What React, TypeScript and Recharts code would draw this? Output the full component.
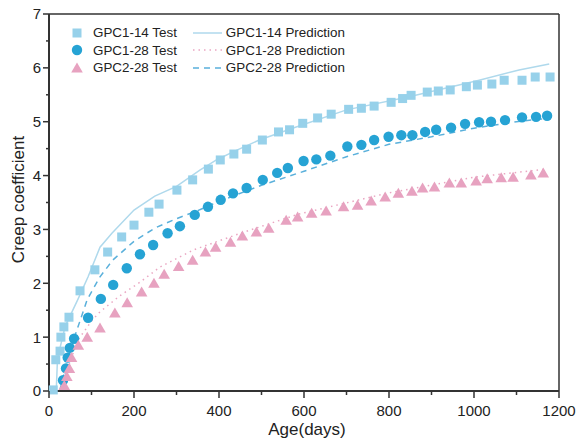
import React from 'react';
import { ComposedChart, Line, Scatter, XAxis, YAxis, ReferenceLine } from 'recharts';

const test14X = [10, 16, 26, 28, 35, 47, 73, 108, 138, 171, 200, 235, 259, 301, 338, 375, 403, 435, 465, 502, 540, 566, 597, 632, 664, 705, 735, 765, 805, 832, 852, 890, 916, 944, 982, 1008, 1042, 1071, 1113, 1144, 1179];
const test14Y = [0.02, 0.58, 0.74, 1.0, 1.19, 1.37, 1.86, 2.25, 2.58, 2.86, 3.08, 3.32, 3.47, 3.73, 3.92, 4.12, 4.29, 4.4, 4.49, 4.66, 4.81, 4.85, 4.97, 5.07, 5.14, 5.23, 5.25, 5.29, 5.36, 5.43, 5.49, 5.55, 5.57, 5.59, 5.65, 5.68, 5.7, 5.77, 5.77, 5.83, 5.83];

const test28X = [33, 40, 44, 49, 59, 92, 122, 151, 183, 214, 245, 279, 308, 343, 374, 404, 433, 465, 503, 537, 562, 599, 629, 662, 702, 735, 765, 799, 829, 855, 885, 911, 946, 979, 1012, 1040, 1073, 1113, 1146, 1172];
const test28Y = [0.2, 0.42, 0.62, 0.8, 0.97, 1.36, 1.71, 1.97, 2.28, 2.54, 2.71, 2.93, 3.06, 3.27, 3.42, 3.55, 3.67, 3.77, 3.92, 4.05, 4.14, 4.27, 4.3, 4.37, 4.54, 4.57, 4.66, 4.72, 4.75, 4.75, 4.81, 4.85, 4.89, 4.96, 4.99, 5.0, 5.03, 5.08, 5.09, 5.11];

const test2X = [36, 42, 48, 53, 69, 90, 120, 155, 184, 218, 247, 271, 305, 338, 368, 392, 427, 455, 488, 517, 558, 585, 618, 652, 693, 726, 758, 791, 822, 854, 879, 907, 942, 970, 1005, 1031, 1064, 1092, 1134, 1163];
const test2Y = [0.1, 0.27, 0.42, 0.62, 0.85, 1.0, 1.17, 1.45, 1.64, 1.84, 2.0, 2.17, 2.31, 2.43, 2.58, 2.67, 2.76, 2.88, 2.95, 3.02, 3.17, 3.23, 3.3, 3.34, 3.42, 3.45, 3.53, 3.6, 3.67, 3.71, 3.77, 3.79, 3.86, 3.86, 3.9, 3.94, 3.96, 3.97, 4.01, 4.05];

// model predictions
const pred14X = [17, 20, 38, 68, 92, 120, 148, 200, 249, 300, 355, 394, 433, 495, 573, 700, 850, 1012, 1106, 1177];
const pred14Y = [0, 0.6, 1.2, 1.7, 2.12, 2.67, 2.93, 3.36, 3.62, 3.8, 4.1, 4.29, 4.44, 4.66, 4.88, 5.22, 5.47, 5.77, 5.96, 6.07];

const pred28X = [28, 50, 68, 85, 100, 120, 167, 214, 261, 340, 440, 585, 800, 1000, 1170];
const pred28Y = [0, 0.55, 0.95, 1.13, 1.3, 1.47, 1.77, 2.02, 2.3, 2.62, 2.9, 3.28, 3.68, 3.97, 4.12];

const pred2X = [25, 45, 60, 75, 90, 120, 150, 200, 250, 300, 350, 400, 500, 600, 700, 800, 900, 1000, 1100, 1170];
const pred2Y = [0, 0.6, 1.0, 1.35, 1.7, 2.12, 2.43, 2.78, 3.03, 3.2, 3.35, 3.52, 3.82, 4.08, 4.35, 4.58, 4.72, 4.88, 5.0, 5.06];

const xTicks = [0, 100, 200, 300, 400, 500, 600, 700, 800, 900, 1000, 1100, 1200];
const yTicks = [0, 0.5, 1, 1.5, 2, 2.5, 3, 3.5, 4, 4.5, 5, 5.5, 6, 6.5, 7];

const zip = (xs: number[], ys: number[]) => xs.map((x, i) => ({ x, y: ys[i] }));

const C_SQ = '#97D1EA';
const C_CIR = '#26A3D4';
const C_TRI = '#E7A2C0';
const C_SOLID = '#AFD9EC';
const C_DASH = '#5AB0DB';
const C_DOT = '#EAA6C2';
const AXIS = '#333';
const FONT = '"Liberation Sans", Arial, sans-serif';

const Square = ({ cx, cy }: any) => <rect x={cx - 4.5} y={cy - 4.5} width={9} height={9} fill={C_SQ} />;
const Circle = ({ cx, cy }: any) => <circle cx={cx} cy={cy} r={5.2} fill={C_CIR} />;
const Triangle = ({ cx, cy }: any) => (
  <polygon points={`${cx},${cy - 5.5} ${cx + 5.8},${cy + 4.5} ${cx - 5.8},${cy + 4.5}`} fill={C_TRI} />
);

const XTick = ({ x, y, payload }: any) => {
  const major = payload.value % 200 === 0;
  const axisY = y - 14;
  return (
    <g>
      <line x1={x} x2={x} y1={axisY} y2={axisY + (major ? 7 : 4)} stroke={AXIS} strokeWidth={1.5} />
      {major && (
        <text x={x} y={y} dy="0.71em" textAnchor="middle" fontSize={15} fill="#222" fontFamily={FONT}>
          {payload.value}
        </text>
      )}
    </g>
  );
};

const YTick = ({ x, y, payload }: any) => {
  const major = payload.value % 1 === 0;
  const axisX = x + 8;
  return (
    <g>
      <line x1={axisX} x2={axisX - (major ? 6 : 3)} y1={y} y2={y} stroke={AXIS} strokeWidth={1.5} />
      {major && (
        <text x={x} y={y} dy="0.36em" textAnchor="end" fontSize={15} fill="#222" fontFamily={FONT}>
          {payload.value}
        </text>
      )}
    </g>
  );
};

const legendLeft = [
  { name: 'GPC1-14 Test', marker: 'sq' },
  { name: 'GPC1-28 Test', marker: 'cir' },
  { name: 'GPC2-28 Test', marker: 'tri' },
];
const legendRight = [
  { name: 'GPC1-14 Prediction', color: C_SOLID, dash: undefined },
  { name: 'GPC1-28 Prediction', color: C_DOT, dash: '1.5 4' },
  { name: 'GPC2-28 Prediction', color: C_DASH, dash: '6 5' },
];

const Legend = () => (
  <div style={{ position: 'absolute', left: 68, top: 24, fontFamily: FONT, fontSize: 13.4, color: '#222', display: 'flex' }}>
    <div>
      {legendLeft.map((e) => (
        <div key={e.name} style={{ display: 'flex', alignItems: 'center', height: 17.5 }}>
          <svg width={25} height={14}>
            {e.marker === 'sq' && <Square cx={9} cy={7} />}
            {e.marker === 'cir' && <Circle cx={9} cy={7} />}
            {e.marker === 'tri' && <Triangle cx={9} cy={7} />}
          </svg>
          <span>{e.name}</span>
        </div>
      ))}
    </div>
    <div style={{ marginLeft: 16 }}>
      {legendRight.map((e) => (
        <div key={e.name} style={{ display: 'flex', alignItems: 'center', height: 17.5 }}>
          <svg width={33} height={14}>
            <line x1={0} x2={29} y1={7} y2={7} stroke={e.color} strokeWidth={1.5} strokeDasharray={e.dash} />
          </svg>
          <span>{e.name}</span>
        </div>
      ))}
    </div>
  </div>
);

export default function App() {
  return (
    <div style={{ position: 'absolute', top: 0, left: 0, width: 581, height: 441 }}>
      <ComposedChart width={581} height={441} margin={{ top: 14, right: 22, bottom: 0, left: 0 }}>
        <XAxis
          dataKey="x"
          type="number"
          domain={[0, 1200]}
          ticks={xTicks}
          interval={0}
          tick={<XTick />}
          tickLine={false}
          tickSize={7}
          tickMargin={7}
          height={50}
          axisLine={{ stroke: AXIS, strokeWidth: 2 }}
          label={{
            content: ({ viewBox }: any) => (
              <text x={viewBox.x + viewBox.width / 2 + 3} y={viewBox.y + 44} textAnchor="middle" fontSize={17} fill="#222" fontFamily={FONT}>
                Age(days)
              </text>
            ),
          }}
        />
        <YAxis
          dataKey="y"
          type="number"
          domain={[0, 7]}
          ticks={yTicks}
          interval={0}
          tick={<YTick />}
          tickLine={false}
          tickSize={6}
          tickMargin={2}
          width={49}
          axisLine={{ stroke: AXIS, strokeWidth: 2 }}
          label={{
            content: ({ viewBox }: any) => {
              const cx = viewBox.x + 18;
              const cy = viewBox.y + viewBox.height / 2 - 3;
              return (
                <text x={cx} y={cy} transform={`rotate(-90 ${cx} ${cy})`} textAnchor="middle" dy="0.36em" fontSize={17} fill="#222" fontFamily={FONT}>
                  Creep coefficient
                </text>
              );
            },
          }}
        />
        <ReferenceLine y={7} stroke={AXIS} strokeWidth={1.5} />
        <ReferenceLine x={1200} stroke={AXIS} strokeWidth={1.5} />

        <Line data={zip(pred14X, pred14Y)} dataKey="y" stroke={C_SOLID} strokeWidth={1.5} dot={false} isAnimationActive={false} />
        <Line data={zip(pred28X, pred28Y)} dataKey="y" stroke={C_DOT} strokeWidth={1.5} strokeDasharray="1.5 4" dot={false} isAnimationActive={false} />
        <Line data={zip(pred2X, pred2Y)} dataKey="y" stroke={C_DASH} strokeWidth={1.5} strokeDasharray="6 5" dot={false} isAnimationActive={false} />

        <Scatter data={zip(test14X, test14Y)} shape={<Square />} isAnimationActive={false} />
        <Scatter data={zip(test28X, test28Y)} shape={<Circle />} isAnimationActive={false} />
        <Scatter data={zip(test2X, test2Y)} shape={<Triangle />} isAnimationActive={false} />
      </ComposedChart>
      <Legend />
    </div>
  );
}
